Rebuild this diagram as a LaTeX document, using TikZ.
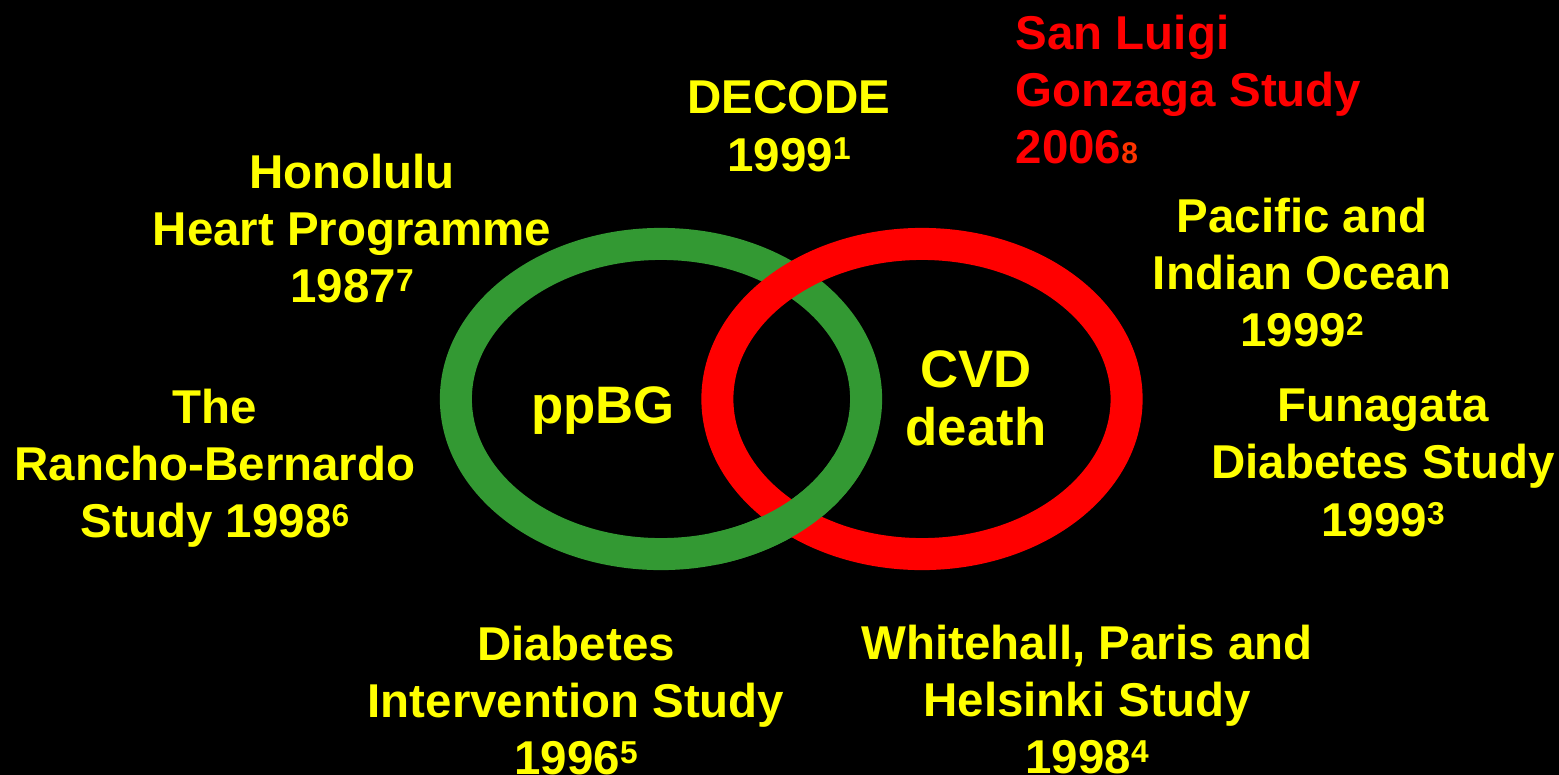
\documentclass[tikz,border=0pt]{standalone}
\usepackage{fontspec}
\setmainfont{Liberation Sans}
\definecolor{ringgreen}{HTML}{339933}
\definecolor{ringred}{HTML}{FF0000}
\definecolor{labelyellow}{HTML}{FFFF00}
\definecolor{refred}{HTML}{FF3300}
\newcommand{\refmark}[1]{\raisebox{3.3pt}{\fontsize{9}{9}\selectfont #1}}
\begin{document}
\begin{tikzpicture}[x=0.01cm,y=-0.01cm,
  study/.style={text=labelyellow, font=\fontsize{13.5}{16.3}\selectfont\bfseries,
    align=center, inner sep=0pt, anchor=north},
  setlabel/.style={text=labelyellow, font=\fontsize{15}{16.6}\selectfont\bfseries,
    align=center, inner sep=0pt, anchor=north},
  ring/.style={line width=0.32cm}]

  % background
  \fill[black] (0,0) rectangle (1559,775);
  \useasboundingbox (0,0) rectangle (1559,775);

  % the two rings, red over green at the top, green over red at the bottom
  \draw[ring, ringgreen] (661,399) ellipse [x radius=2.05cm, y radius=1.55cm];
  \draw[ring, ringred] (922,399) ellipse [x radius=2.045cm, y radius=1.55cm];
  \draw[ring, ringgreen] (661,399) ++(-75:2.05cm and 1.55cm)
    arc [start angle=-75, end angle=-25, x radius=2.05cm, y radius=1.55cm];

  % labels inside the rings
  \node[setlabel] (ppbg) at (603,386) {ppBG};
  \node[setlabel] (cvd) at (976,350) {CVD\\death};

  % studies round the rings
  \node[study] (honolulu) at (352,153) {Honolulu\\Heart Programme\\1987\refmark{7}};
  \node[study] (rancho) at (215,388) {The\\Rancho-Bernardo\\Study 1998\refmark{6}};
  \node[study] (decode) at (789,80) {DECODE\\1999\refmark{1}};
  \node[study, text=ringred, align=left, anchor=north west] (sanluigi) at (1015,14)
    {San Luigi\\Gonzaga Study\\2006{\color{refred}\fontsize{8.5}{8.5}\selectfont 8}};
  \node[study] (pacific) at (1302,197) {Pacific and\\Indian Ocean\\1999\refmark{2}};
  \node[study] (funagata) at (1383,388) {Funagata\\Diabetes Study\\1999\refmark{3}};
  \node[study] (intervention) at (576,625) {Diabetes\\Intervention Study\\1996\refmark{5}};
  \node[study] (whitehall) at (1087,624) {Whitehall, Paris and\\Helsinki Study\\1998\refmark{4}};
\end{tikzpicture}
\end{document}
